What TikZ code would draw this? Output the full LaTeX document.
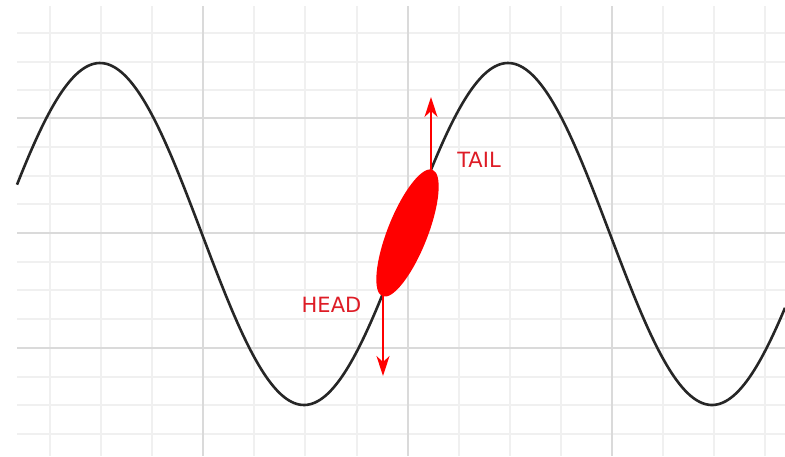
\documentclass[tikz,border=0pt]{standalone}
\usepackage{fontspec}
\setmainfont{DejaVu Sans}
\usetikzlibrary{arrows.meta,shapes.geometric}
\definecolor{minorgrid}{RGB}{240,240,240}
\definecolor{majorgrid}{RGB}{218,218,218}
\definecolor{wave}{RGB}{38,38,38}
\definecolor{bodyred}{RGB}{255,0,0}
\definecolor{labelred}{RGB}{222,28,38}
\tikzset{
  minorline/.style={draw=minorgrid, line width=1.2pt},
  majorline/.style={draw=majorgrid, line width=1.5pt},
  waveline/.style={draw=wave, line width=2.6pt},
  motion/.style={draw=bodyred, line width=1.6pt, -{Stealth[length=20pt,width=13pt,inset=6pt]}},
  lbl/.style={text=labelred, font=\fontsize{21}{25}\selectfont, inner sep=0pt}
}
\begin{document}
\begin{tikzpicture}[x=1pt,y=-1pt]
\useasboundingbox (0,0) rectangle (785,456);
\fill[white] (0,0) rectangle (785,456);
% minor grid
\foreach \gx in {50,101,152,254,305,357,459,510,561,663,714,765}
  \draw[minorline] (\gx,6) -- (\gx,456);
\foreach \gy in {33,62,90,147,176,204,262,290,319,377,405,434}
  \draw[minorline] (17,\gy) -- (785,\gy);
% major grid
\foreach \gx in {203,408,612}
  \draw[majorline] (\gx,6) -- (\gx,456);
\foreach \gy in {118,233,348}
  \draw[majorline] (17,\gy) -- (785,\gy);
% wave
\draw[waveline] plot[domain=17:785, samples=300, smooth] ({\x},{234-171*cos(0.882353*(\x-100))});
% body
\node[ellipse, fill=bodyred, minimum width=136pt, minimum height=40pt, inner sep=0pt, rotate=68.4] (body) at (407.5,233) {};
\coordinate (tailend) at (431,172);
\coordinate (tailtip) at (431,97);
\coordinate (headend) at (383,294);
\coordinate (headtip) at (383,376);
\draw[motion] (tailend) -- (tailtip);
\draw[motion] (headend) -- (headtip);
\node[lbl] (tail) at (479,159.5) {TAIL};
\node[lbl] (head) at (331.5,304.5) {HEAD};
\end{tikzpicture}
\end{document}
